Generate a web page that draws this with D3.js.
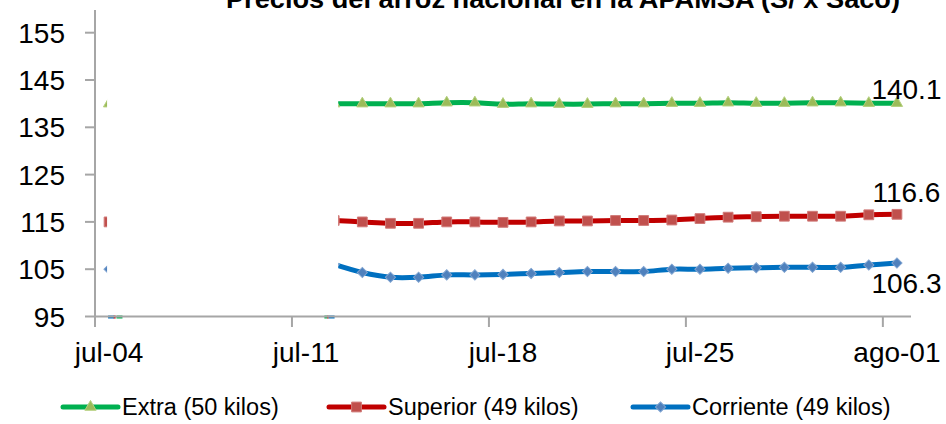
<!DOCTYPE html>
<html>
<head>
<meta charset="utf-8">
<script src="https://cdn.jsdelivr.net/npm/d3@7"></script>
<style>
  body { margin: 0; background: #fff; }
  svg { display: block; font-family: "Liberation Sans", Arial, sans-serif; }
</style>
</head>
<body>
<svg width="946" height="424"></svg>
<script>
// daily dates, jul-04 .. ago-01 (jul-05..jul-11 are blanked in the source chart)
const days = d3.utcDays(new Date(Date.UTC(2016, 6, 4)), new Date(Date.UTC(2016, 7, 2)));
const hid = [null, null, null, null, null, null, null];

const extra = [140.0].concat(hid, [140.0, 140.0, 140.0, 140.0, 140.2, 140.2, 139.9, 140.0, 139.9, 139.9,
  140.0, 140.0, 140.1, 140.1, 140.2, 140.1, 140.1, 140.2, 140.2, 140.1, 140.1]);
const superior = [115.0].concat(hid, [115.3, 115.0, 114.7, 114.7, 115.0, 115.0, 114.9, 115.0, 115.2, 115.2,
  115.3, 115.3, 115.4, 115.7, 116.0, 116.1, 116.2, 116.2, 116.2, 116.5, 116.6]);
const corriente = [105.0].concat(hid, [106.0, 104.3, 103.3, 103.3, 103.8, 103.8, 103.9, 104.1, 104.3, 104.5,
  104.5, 104.5, 105.0, 105.0, 105.2, 105.3, 105.4, 105.4, 105.4, 105.9, 106.3]);

const yTicks = [95, 105, 115, 125, 135, 145, 155];
const xTickLabels = ['jul-04', 'jul-11', 'jul-18', 'jul-25', 'ago-01'];
const lastLabels = ['140.1', '116.6', '106.3'];

const series = [
  { name: 'Extra (50 kilos)', vals: extra, line: '#00b050', fill: '#9bbb59', stroke: '#b5cf7e', sym: 'tri', dy: -4 },
  { name: 'Superior (49 kilos)', vals: superior, line: '#c00000', fill: '#c0504d', stroke: '#d07a78', sym: 'sq', dy: -12 },
  { name: 'Corriente (49 kilos)', vals: corriente, line: '#0070c0', fill: '#4f81bd', stroke: '#7fa3d0', sym: 'dia', dy: 30 }
];

const svg = d3.select('svg');
const x = d3.scaleUtc().domain([days[0], d3.utcDay.offset(days[days.length - 1], 1)]).range([95, 911]);
const y = d3.scaleLinear().domain([95, 155]).range([316.5, 32.7]);
const xc = d => x(d3.utcHour.offset(d, 12)); // points sit mid-day

function symPath(s) {
  if (s === 'tri') return d3.symbol(d3.symbolTriangle, 55)();
  if (s === 'sq') return d3.symbol(d3.symbolSquare, 96)();
  return d3.symbol(d3.symbolSquare, 52)();
}
function symRot(s) { return s === 'dia' ? ' rotate(45)' : ''; }

// title (cut off at the top, as in the source)
svg.append('text')
  .attr('x', 563).attr('y', 8)
  .attr('text-anchor', 'middle')
  .attr('font-weight', 'bold').attr('font-size', 25)
  .attr('textLength', 674).attr('lengthAdjust', 'spacingAndGlyphs')
  .text('Precios del arroz nacional en la APAMSA (S/ x Saco)');

// series
const line = d3.line()
  .defined(d => d.v != null)
  .x(d => xc(d.d)).y(d => y(d.v))
  .curve(d3.curveCatmullRom.alpha(0.5));

series.forEach(s => {
  const pts = days.map((d, i) => ({ d: d, v: s.vals[i] }));
  svg.append('path').datum(pts)
    .attr('fill', 'none').attr('stroke', s.line)
    .attr('stroke-width', 5).attr('stroke-linejoin', 'round')
    .attr('d', line);
  svg.append('g').selectAll('path')
    .data(pts.filter(p => p.v != null))
    .enter().append('path')
      .attr('d', symPath(s.sym))
      .attr('transform', p => 'translate(' + xc(p.d) + ',' + y(p.v) + ')' + symRot(s.sym))
      .attr('fill', s.fill).attr('stroke', s.stroke).attr('stroke-width', 1);
});

// white block over jul-04..jul-12 in the source chart
const maskL = xc(days[0]) - 2, maskR = xc(days[8]) + 4;
svg.append('rect')
  .attr('x', maskL).attr('y', 10)
  .attr('width', maskR - maskL).attr('height', y(95) - 11)
  .attr('fill', '#fff');

// small coloured stubs left on the base line
[[0.0, '#0070c0'], [0.2, '#c00000'], [0.3, '#00b050']].forEach(a => {
  svg.append('rect').attr('x', xc(days[0]) + 28 * a[0] - 1).attr('y', y(95) - 1)
    .attr('width', a[0] === 0.2 ? 2 : 6).attr('height', 3).attr('fill', a[1]);
});
[[-0.35, '#00b050'], [-0.25, '#c00000'], [-0.2, '#0070c0']].forEach(a => {
  svg.append('rect').attr('x', xc(days[8]) + 28 * a[0]).attr('y', y(95) - 1)
    .attr('width', a[0] === -0.25 ? 1.5 : (a[0] === -0.2 ? 6 : 3)).attr('height', 3).attr('fill', a[1]);
});

// axes
const axisCol = '#a6a6a6';
svg.append('line').attr('x1', 95).attr('x2', 95).attr('y1', 10).attr('y2', 327)
  .attr('stroke', axisCol).attr('stroke-width', 2);
svg.append('line').attr('x1', 95).attr('x2', 911).attr('y1', y(95)).attr('y2', y(95))
  .attr('stroke', axisCol).attr('stroke-width', 2);

yTicks.forEach(t => {
  svg.append('line').attr('x1', 85).attr('x2', 95).attr('y1', y(t)).attr('y2', y(t))
    .attr('stroke', axisCol).attr('stroke-width', 2);
  svg.append('text').attr('x', 65).attr('y', y(t)).attr('dy', '0.36em')
    .attr('text-anchor', 'end').attr('font-size', 28).attr('fill', '#000').text(t);
});

xTickLabels.forEach((lab, i) => {
  const d = d3.utcDay.offset(days[0], i * 7);
  svg.append('line').attr('x1', x(d)).attr('x2', x(d)).attr('y1', y(95)).attr('y2', 327)
    .attr('stroke', axisCol).attr('stroke-width', 2);
  svg.append('text').attr('x', xc(d)).attr('y', 362)
    .attr('text-anchor', 'middle').attr('font-size', 28).attr('fill', '#000').text(lab);
});

// end labels
series.forEach((s, i) => {
  const li = days.length - 1;
  svg.append('text')
    .attr('x', xc(days[li]) + 9.5).attr('y', y(s.vals[li]) + s.dy)
    .attr('text-anchor', 'middle').attr('font-size', 28).attr('fill', '#000')
    .text(lastLabels[i]);
});

// legend
const legX = [63, 329, 633];
series.forEach((s, i) => {
  const g = svg.append('g').attr('transform', 'translate(' + legX[i] + ',407)');
  g.append('line').attr('x1', 0).attr('x2', 55).attr('stroke', s.line)
    .attr('stroke-width', 5).attr('stroke-linecap', 'round');
  g.append('path').attr('d', symPath(s.sym))
    .attr('transform', 'translate(27.5,0)' + symRot(s.sym))
    .attr('fill', s.fill).attr('stroke', s.stroke);
  g.append('text').attr('x', 59).attr('dy', '0.36em')
    .attr('font-size', 23.5).attr('fill', '#000').text(s.name);
});
</script>
</body>
</html>
